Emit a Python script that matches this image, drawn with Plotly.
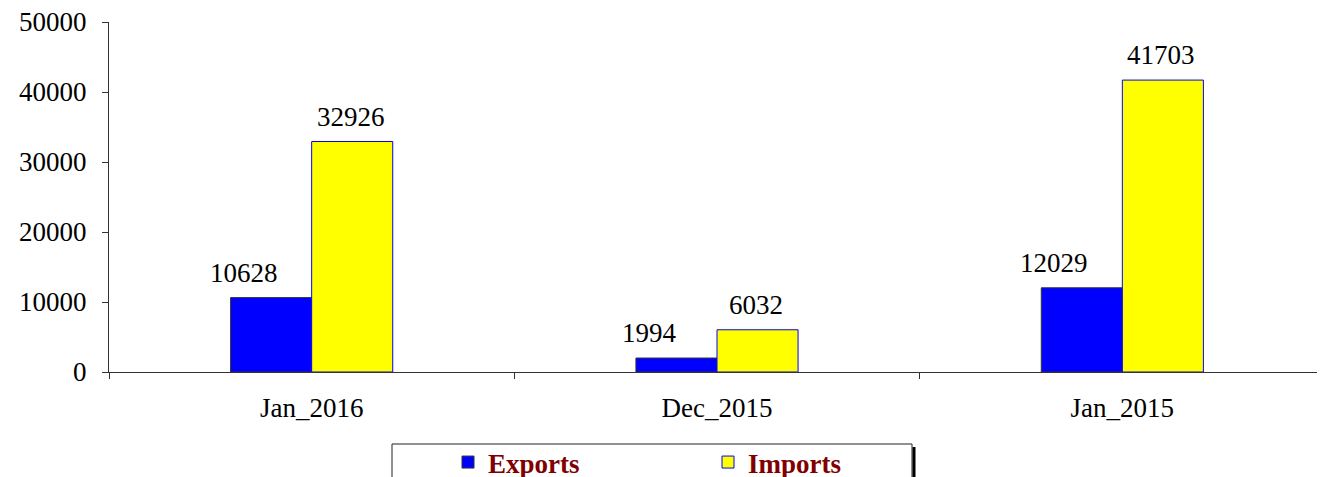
import plotly.graph_objects as go

categories = ["Jan_2016", "Dec_2015", "Jan_2015"]
exports = [10628, 1994, 12029]
imports = [32926, 6032, 41703]
y_ticks = [0, 10000, 20000, 30000, 40000, 50000]
y_tick_labels = ["0", "10000", "20000", "30000", "40000", "50000"]

serif = "Liberation Serif, Times New Roman, serif"
FS = 27

# page body has an 8px margin; plot area: x 109..1325, y 22..372 (page px)
OFF = 8
PL, PT, PW, PH = 109, 22, 1216, 350


def px_x(p):
    return (p - PL) / PW


def px_y(p):
    return (PT + PH - p) / PH


fig = go.Figure()
fig.add_trace(go.Bar(
    name="Exports", x=categories, y=exports,
    marker=dict(color="#0000FF", line=dict(color="#333333", width=1)),
))
fig.add_trace(go.Bar(
    name="Imports", x=categories, y=imports,
    marker=dict(color="#FFFF00", line=dict(color="#0000FF", width=1)),
))

# value labels
for c, v in zip(categories, exports):
    fig.add_annotation(x=c, y=v, text=str(v), showarrow=False, xanchor="center",
                       yanchor="bottom", xshift=-68, yshift=8,
                       font=dict(family=serif, size=FS, color="black"))
for c, v in zip(categories, imports):
    fig.add_annotation(x=c, y=v, text=str(v), showarrow=False, xanchor="center",
                       yanchor="bottom", xshift=39, yshift=8,
                       font=dict(family=serif, size=FS, color="black"))

# legend frame (box + right shadow)
fig.add_shape(type="rect", xref="paper", yref="paper",
              x0=px_x(392), x1=px_x(912), y0=px_y(500), y1=px_y(444),
              line=dict(color="#222222", width=1), fillcolor="rgba(0,0,0,0)", layer="below")
fig.add_shape(type="line", xref="paper", yref="paper",
              x0=px_x(914), x1=px_x(914), y0=px_y(500), y1=px_y(447),
              line=dict(color="black", width=3))

fig.update_layout(
    width=1325, height=477,
    margin=dict(l=PL - OFF, r=OFF, t=PT - OFF, b=477 + OFF - (PT + PH), autoexpand=False),
    paper_bgcolor="white", plot_bgcolor="white",
    barmode="group", bargap=0.6, bargroupgap=0,
    font=dict(family=serif, size=FS, color="black"),
    showlegend=True,
    legend=dict(
        orientation="h", x=px_x(448), xanchor="left", y=px_y(438), yanchor="top",
        bgcolor="rgba(0,0,0,0)", borderwidth=0,
        font=dict(family=serif, size=FS, color="#800000", weight="bold"),
        entrywidth=215, entrywidthmode="pixels",
    ),
    xaxis=dict(
        showline=True, linecolor="#333333", linewidth=1,
        ticks="outside", tickson="boundaries", ticklen=6, tickcolor="#333333",
        tickfont=dict(family=serif, size=FS, color="black"),
        ticklabelstandoff=12, ticklabeloverflow="allow",
        showgrid=False, automargin=False,
    ),
    yaxis=dict(
        range=[0, 50000], tickvals=y_ticks, ticktext=y_tick_labels,
        showline=True, linecolor="#333333", linewidth=1,
        ticks="outside", ticklen=6, tickcolor="#333333",
        tickfont=dict(family=serif, size=FS, color="black"),
        ticklabelstandoff=10, ticklabeloverflow="allow",
        showgrid=False, zeroline=False, automargin=False,
    ),
)

fig.write_html("out.html")
